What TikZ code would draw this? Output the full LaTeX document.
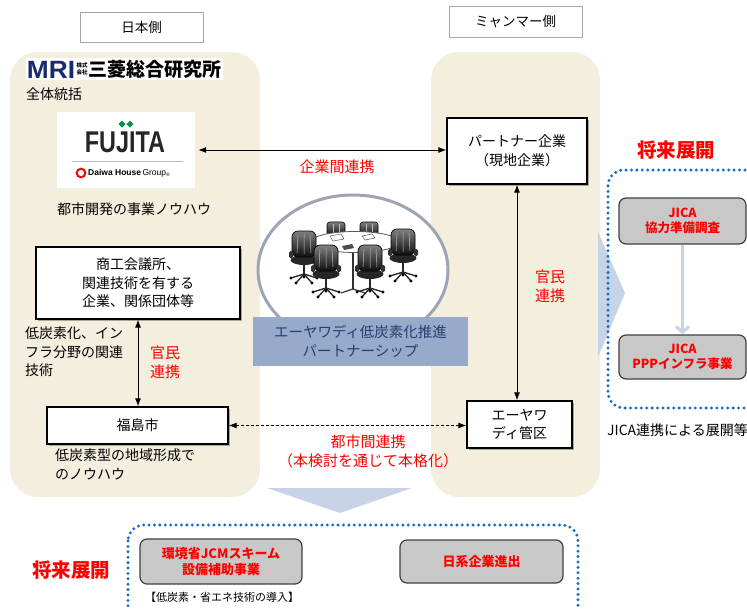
\documentclass[tikz,border=0pt]{standalone}
\usepackage{fontspec}
\setmainfont{Noto Sans CJK JP}
\newfontfamily\latinfont{Liberation Sans}
\usetikzlibrary{arrows.meta,shadows}

\definecolor{beige}{RGB}{243,238,222}
\definecolor{paleblue}{RGB}{199,212,231}
\definecolor{dotblue}{RGB}{25,110,195}
\definecolor{steel}{RGB}{150,170,202}
\definecolor{navytext}{RGB}{40,60,112}
\definecolor{ringgray}{RGB}{157,165,180}
\definecolor{mrinavy}{RGB}{26,43,109}
\definecolor{fujigreen}{RGB}{0,150,70}
\definecolor{boxgray}{RGB}{200,200,200}

\newcommand\setfs[2]{\fontsize{#1pt}{#2pt}\selectfont}

\tikzset{
  panel/.style={fill=beige, rounded corners=28pt},
  sidelabel/.style={draw=gray!70, fill=white, line width=0.8pt, font=\setfs{13.5}{18}},
  wbox/.style={draw=black, fill=white, line width=1.3pt, align=center, inner sep=0pt,
    font=\setfs{14}{18.5},
    drop shadow={shadow xshift=2pt, shadow yshift=-2pt, opacity=0.3, fill=black}},
  gbox/.style={draw=black!75, fill=boxgray, rounded corners=7pt, line width=1.2pt,
    align=center, inner sep=0pt, text=red, font=\setfs{12.5}{15.5}\bfseries},
  plain/.style={align=left, inner sep=0pt, font=\setfs{14}{18.5}},
  redlbl/.style={text=red, align=center, inner sep=0pt, font=\setfs{15}{19}},
  futurelbl/.style={text=red, inner sep=0pt, font=\setfs{19.5}{22}\bfseries},
  conn/.style={line width=0.9pt, {Latex[length=8pt,width=6pt]}-{Latex[length=8pt,width=6pt]}},
  bluedots/.style={draw=dotblue, line width=3.3pt, dash pattern=on 0pt off 5.4pt,
    line cap=round, rounded corners=16pt},
  chairleg/.style={draw=black!85, line width=1.3pt},
  chair/.pic={
    \draw[chairleg] (0,14) -- (0,29);
    \foreach \dx/\dy in {-13/33,13/33,-8/38,8/38,0/32}{
      \draw[chairleg] (0,29) -- (\dx,\dy);
      \fill[black] (\dx,\dy) circle (1.6);
    }
    \fill[black!85] (0,15) ellipse (13.5 and 5);
    \shade[top color=black!50, bottom color=black!95, rounded corners=6pt] (-12,-14) rectangle (12,12);
    \draw[black, line width=0.7pt, rounded corners=6pt] (-12,-14) rectangle (12,12);
    \draw[black!25, line width=0.5pt] (-6,-10) -- (-7,8) (0,-11) -- (0,9) (6,-10) -- (7,8);
    \fill[black!80, rounded corners=1.5pt] (-15,6) rectangle (-11,13);
    \fill[black!80, rounded corners=1.5pt] (11,6) rectangle (15,13);
  },
  rearchair/.pic={
    \shade[top color=black!50, bottom color=black!95, rounded corners=3pt] (-9,-6) rectangle (9,8);
    \draw[black, line width=0.6pt, rounded corners=3pt] (-9,-6) rectangle (9,8);
    \draw[black!25, line width=0.5pt] (-3,-4) -- (-3,7) (3,-4) -- (3,7);
  }
}

\begin{document}
\begin{tikzpicture}[x=1pt, y=-1pt]
\useasboundingbox (0,0) rectangle (747,608);
\clip (0,0) rectangle (747,608);

% side panels
\fill[panel] (10,52) rectangle (260,497);
\fill[panel] (431,52) rectangle (600,497);

% side headings
\node[sidelabel, minimum width=123pt, minimum height=30pt] (jpside) at (141.5,27) {日本側};
\node[sidelabel, minimum width=133pt, minimum height=31pt] (mmside) at (515.5,21.5) {ミャンマー側};

% large pointers towards the future developments
\fill[paleblue] (598,232) -- (625,293) -- (598,357) -- cycle;
\fill[paleblue] (267,488) -- (412,488) -- (340,513) -- cycle;

% MRI logo
\fill[white] (26,58) rectangle (223,80);
\node[inner sep=0pt, text=mrinavy, xscale=1.05, font=\latinfont\fontsize{25pt}{25pt}\selectfont\bfseries] (mri) at (51,69.5) {MRI};
\node[inner sep=0pt, font=\setfs{5.5}{6.5}\bfseries, align=center] (kabu) at (82,69) {株式\\会社};
\node[anchor=west, inner sep=0pt, font=\setfs{19}{20}\bfseries] (mriname) at (88,69) {三菱総合研究所};
\node[plain, anchor=west] (zentai) at (26,94) {全体統括};

% Fujita logo
\node[fill=white, minimum width=138pt, minimum height=76pt, inner sep=0pt] (fujita) at (126,150) {};
\node[inner sep=0pt, text=black!85, xscale=0.78, font=\latinfont\fontsize{30pt}{30pt}\selectfont\bfseries] (fujitaword) at (125,142) {FUJITA};
\fill[fujigreen] (122,120.5) -- (125.5,124) -- (122,127.5) -- (118.5,124) -- cycle;
\fill[fujigreen] (130,120.5) -- (133.5,124) -- (130,127.5) -- (126.5,124) -- cycle;
\draw[gray!55, line width=1pt] (72,161) -- (183,161);
\draw[red, line width=2pt] (81,173) circle (4.3);
\node[anchor=west, inner sep=0pt, font=\latinfont\fontsize{8.5pt}{9pt}\selectfont] (daiwa) at (88,173) {\textbf{Daiwa House}\,Group\raisebox{-0.2ex}{\tiny ®}};
\node[plain, anchor=center] (toshikaihatsu) at (134,209) {都市開発の事業ノウハウ};

% Japanese side actors
\node[wbox, minimum width=204pt, minimum height=72pt] (shoko) at (138,283) {商工会議所、\\関連技術を有する\\企業、関係団体等};
\node[plain, anchor=north west] (teitanso) at (25,327) {低炭素化、イン\\フラ分野の関連\\技術};
\node[redlbl] (kanmin1) at (165,362) {官民\\連携};
\node[wbox, minimum width=181pt, minimum height=37pt] (fuku) at (137.5,425.5) {福島市};
\node[plain, anchor=north west] (chiiki) at (55,449) {低炭素型の地域形成で\\のノウハウ};

% Myanmar side actors
\node[wbox, minimum width=140pt, minimum height=66pt] (partner) at (517,151) {パートナー企業\\（現地企業）};
\node[redlbl] (kanmin2) at (550,286) {官民\\連携};
\node[wbox, minimum width=105pt, minimum height=47pt] (ayey) at (519.5,424.5) {エーヤワ\\ディ管区};

% partnership emblem: meeting table inside a ring
\draw[ringgray, fill=white, line width=3pt] (353,270) ellipse (95 and 75);
\pic at (336,228) {rearchair};
\pic at (369,228) {rearchair};
\draw[black!80, line width=1.8pt] (353,250) -- (353,289);
\draw[black!80, line width=1.2pt] (341,293) -- (353,289) -- (365,293);
\draw[gray!70!black, fill=white, line width=0.8pt] (355,242) ellipse (44 and 10.5);
\draw[gray!70!black, line width=0.5pt, fill=white] (330,236) -- (341,234) -- (344,239) -- (333,241) -- cycle;
\draw[gray!70!black, line width=0.5pt, fill=white] (362,236) -- (372,234) -- (375,238) -- (365,240) -- cycle;
\fill[black!70] (342,246) -- (352,244) -- (354,248) -- (344,250) -- cycle;
\pic at (304,245) {chair};
\pic at (403,243) {chair};
\pic at (326,259) {chair};
\pic at (370,259) {chair};
\node[fill=steel, minimum width=215pt, minimum height=49pt, inner sep=0pt, align=center,
      text=navytext, font=\setfs{14.5}{19}] (lowcarbon) at (360.5,341.5) {エーヤワディ低炭素化推進\\パートナーシップ};

% links between the two sides
\draw[conn, shorten <=3pt] (fujita.east) -- (fujita.east -| partner.west);
\node[redlbl] (kigyokan) at (337,167) {企業間連携};
\draw[conn] (shoko.south) -- (shoko.south |- fuku.north);
\draw[conn] (partner.south) -- (partner.south |- ayey.north);
\draw[conn, dash pattern=on 3pt off 2pt] (fuku.east) -- (fuku.east -| ayey.west);
\node[redlbl] (toshikan) at (368,451) {都市間連携\\（本検討を通じて本格化）};

% future development via JICA
\node[futurelbl] (future1) at (676,150) {将来展開};
\draw[bluedots] (608,170) rectangle (770,408);
\node[gbox, minimum width=127pt, minimum height=46pt] (jica1) at (682.5,221) {JICA\\協力準備調査};
\node[gbox, minimum width=127pt, minimum height=44pt] (jica2) at (682.5,357) {JICA\\PPPインフラ事業};
\draw[paleblue, line width=3pt, -{Straight Barb[length=6pt,width=13pt,line width=3pt]}] (jica1.south) -- (jica2.north);
\node[plain, anchor=west] (jicarenkei) at (607,430) {JICA連携による展開等};

% future development in Japan-led schemes
\node[futurelbl] (future2) at (71,570) {将来展開};
\draw[bluedots] (128,525) rectangle (578,625);
\node[gbox, minimum width=162pt, minimum height=45pt, font=\setfs{13}{15.5}\bfseries] (jcm) at (221,561.5) {環境省JCMスキーム\\設備補助事業};
\node[inner sep=0pt, font=\setfs{11}{12}] (donyu) at (222,597) {【低炭素・省エネ技術の導入】};
\node[gbox, minimum width=163pt, minimum height=43pt, font=\setfs{13}{15.5}\bfseries] (nikkei) at (481.5,561.5) {日系企業進出};

\end{tikzpicture}
\end{document}
